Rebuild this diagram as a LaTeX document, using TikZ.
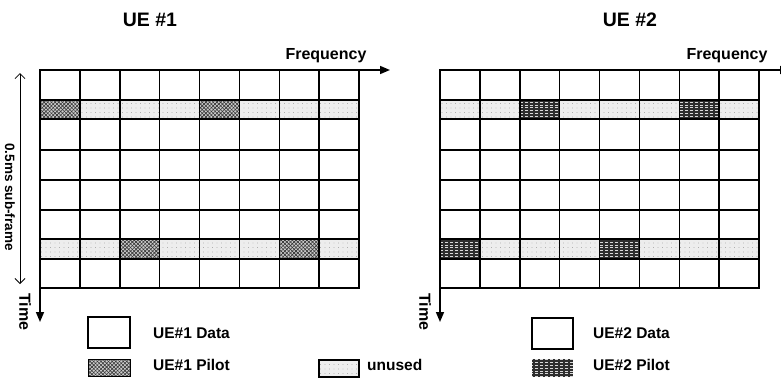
\documentclass[tikz,border=0pt]{standalone}
\usepackage{fontspec}
\setmainfont{Liberation Sans}
\usetikzlibrary{patterns,patterns.meta,arrows.meta}
\pgfdeclarepatternformonly{dashrows}{\pgfqpoint{-1pt}{-1pt}}{\pgfqpoint{7pt}{4pt}}{\pgfqpoint{5pt}{2.8pt}}{%
  \pgfpathrectangle{\pgfqpoint{0pt}{1pt}}{\pgfqpoint{3.2pt}{0.8pt}}\pgfusepath{fill}}
\begin{document}
\begin{tikzpicture}[x=1pt,y=-1pt,
  gridline/.style={line width=1.5pt,line cap=rect},
  unusedcell/.style={fill=black!7,postaction={pattern={Dots[distance=4.5pt,radius=0.35pt,xshift=1pt]},pattern color=black!45}},
  pilotA/.style={fill=black!20,postaction={pattern={Lines[angle=45,distance=2.6pt,line width=0.6pt]},pattern color=black!80},
                 postaction={pattern={Lines[angle=-45,distance=2.6pt,line width=0.6pt]},pattern color=black!80}},
  pilotB/.style={fill=black!82,postaction={pattern=dashrows,pattern color=white!85!black}},
  axis/.style={line width=1.5pt,-{Triangle[length=10pt,width=8pt]}},
  span/.style={line width=0.8pt,{Straight Barb[length=5pt,width=10pt]}-{Straight Barb[length=5pt,width=10pt]}},
  titletext/.style={font=\bfseries\fontsize{19.5}{22}\selectfont},
  axlabel/.style={font=\bfseries\fontsize{16}{18}\selectfont},
  legtext/.style={font=\bfseries\fontsize{15.5}{18}\selectfont,anchor=base west,inner sep=0pt},
  legbox/.style={line width=1.3pt}]
\useasboundingbox (0,0) rectangle (781,378);
\def\cw{39.875}
% ---------- UE #1 grid ----------
\fill[unusedcell] (40,100) rectangle (359,119);
\fill[unusedcell] (40,239) rectangle (359,259);
\foreach \c in {0,4} \fill[pilotA] ({40+\c*\cw},100) rectangle ++(\cw,19);
\foreach \c in {2,6} \fill[pilotA] ({40+\c*\cw},239) rectangle ++(\cw,20);
\foreach \i in {0,...,8} \draw[gridline] ({40+\i*\cw},70) -- ({40+\i*\cw},288);
\foreach \y in {70,100,119,150,180,210,239,259,288} \draw[gridline] (40,\y) -- (359,\y);
% ---------- UE #2 grid ----------
\fill[unusedcell] (440,100) rectangle (759,119);
\fill[unusedcell] (440,239) rectangle (759,259);
\foreach \c in {2,6} \fill[pilotB] ({440+\c*\cw},100) rectangle ++(\cw,19);
\foreach \c in {0,4} \fill[pilotB] ({440+\c*\cw},239) rectangle ++(\cw,20);
\foreach \i in {0,...,8} \draw[gridline] ({440+\i*\cw},70) -- ({440+\i*\cw},288);
\foreach \y in {70,100,119,150,180,210,239,259,288} \draw[gridline] (440,\y) -- (759,\y);
% ---------- axes ----------
\coordinate (oA) at (40,70);
\coordinate (fA) at (390,70);
\coordinate (tA) at (40,322);
\coordinate (oB) at (440,70);
\coordinate (fB) at (790,70);
\coordinate (tB) at (440,322);
\draw[axis] (oA) -- (fA);
\draw[axis] (oA) -- (tA);
\draw[axis] (oB) -- (fB);
\draw[axis] (oB) -- (tB);
\coordinate (sTop) at (20,73);
\coordinate (sBot) at (20,284);
\draw[span] (sTop) -- (sBot);
% ---------- labels ----------
\node[titletext,anchor=base] (titleA) at (150,26) {UE \#1};
\node[titletext,anchor=base] (titleB) at (630,26) {UE \#2};
\node[axlabel,anchor=base] (freqA) at (326,59) {Frequency};
\node[axlabel,anchor=base] (freqB) at (727,59) {Frequency};
\node[axlabel,rotate=-90] (timeA) at (25,312) {Time};
\node[axlabel,rotate=-90] (timeB) at (425,312) {Time};
\node[font=\bfseries\fontsize{13.5}{15}\selectfont,rotate=-90] (subf) at (10,197) {0.5ms sub-frame};
% ---------- legend ----------
\draw[legbox] (88,317) rectangle (130,348);
\node[legtext] (ldA) at (153,338) {UE\#1 Data};
\fill[pilotA] (88,359) rectangle (130,376);
\draw[line width=0.6pt] (88,359) rectangle (130,376);
\node[legtext] (lpA) at (153,370) {UE\#1 Pilot};
\fill[unusedcell] (319,360) rectangle (359,377);
\draw[legbox] (319,360) rectangle (359,377);
\node[legtext] (lu) at (367,370) {unused};
\draw[legbox] (532,318) rectangle (573,349);
\node[legtext] (ldB) at (593,338) {UE\#2 Data};
\fill[pilotB] (532,359) rectangle (573,377);
\node[legtext] (lpB) at (593,370) {UE\#2 Pilot};
\end{tikzpicture}
\end{document}
